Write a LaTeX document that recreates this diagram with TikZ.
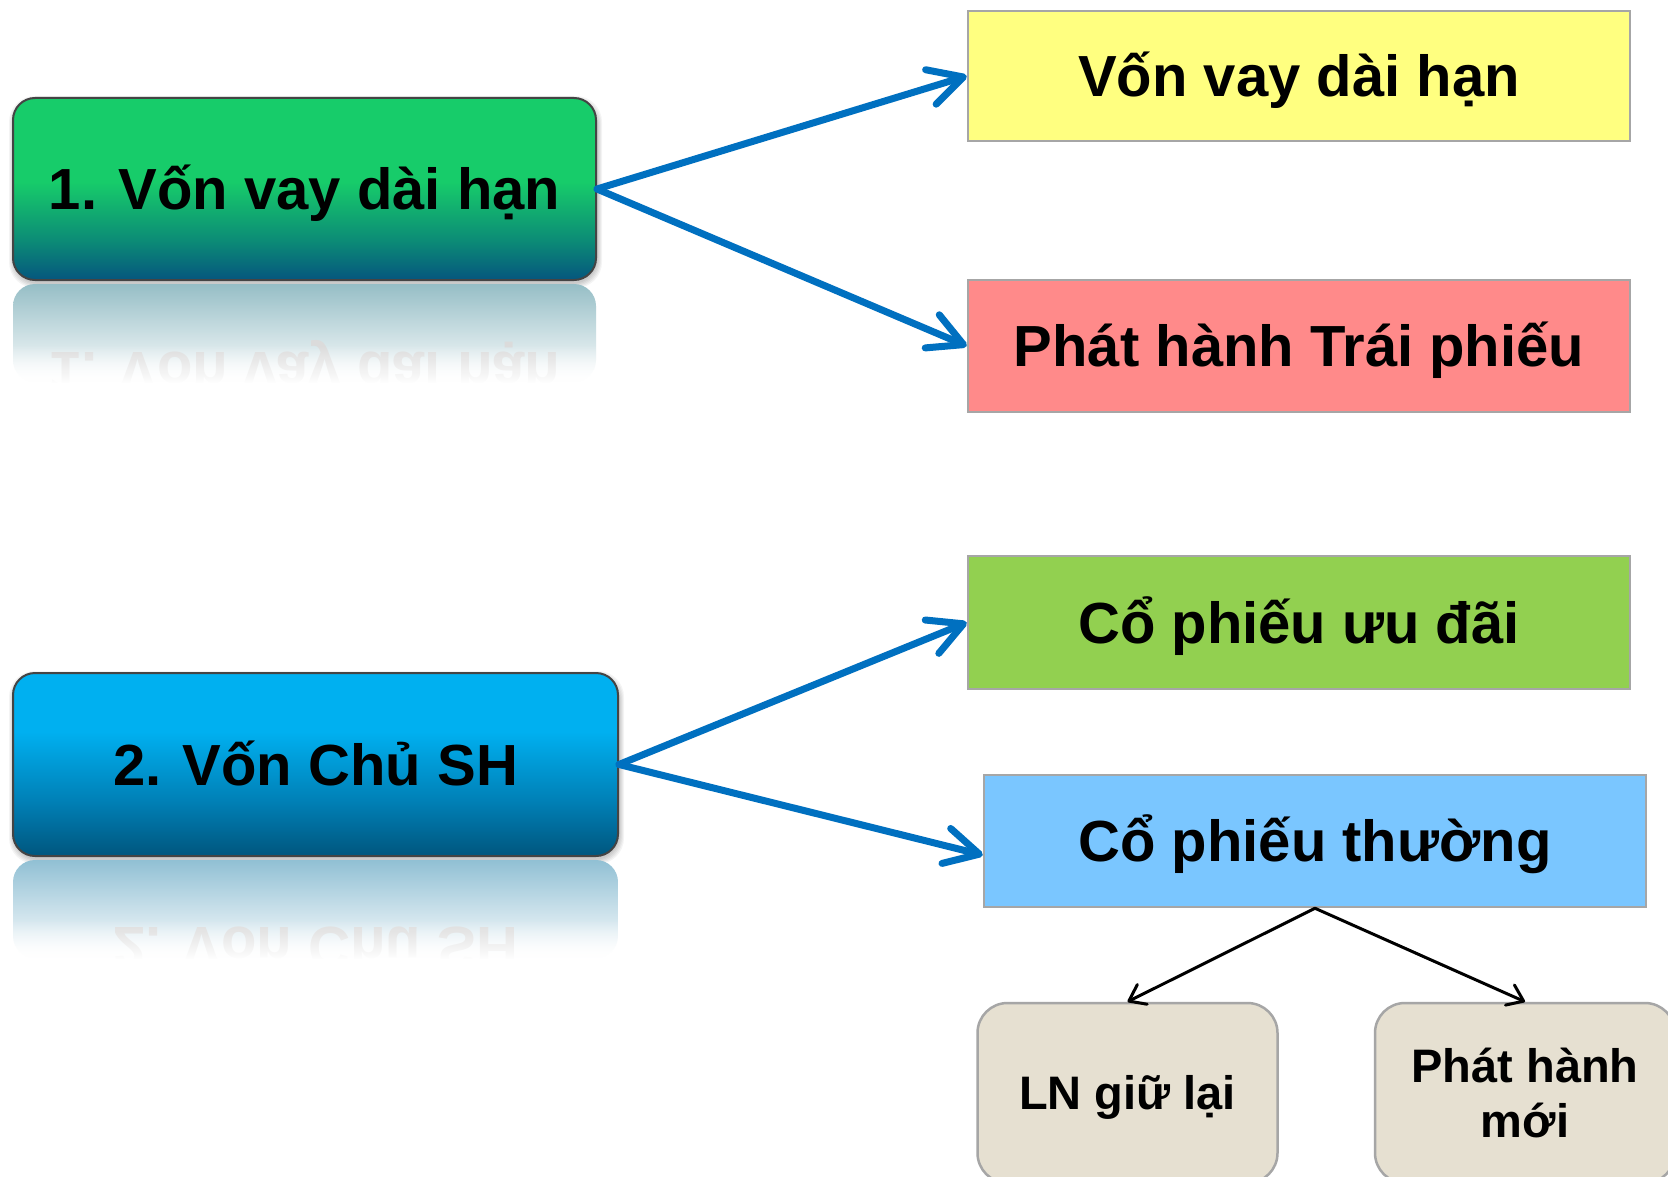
\documentclass[tikz,border=0pt]{standalone}
\usepackage{fontspec}
\setmainfont{Liberation Sans}
\usetikzlibrary{arrows.meta,fadings}

\definecolor{gTop}{RGB}{23,204,106}
\definecolor{gMid}{RGB}{12,140,118}
\definecolor{gBot}{RGB}{5,86,126}
\definecolor{bTop}{RGB}{0,176,240}
\definecolor{bMid}{RGB}{0,128,182}
\definecolor{bBot}{RGB}{0,86,126}
\definecolor{yelbox}{RGB}{255,255,128}
\definecolor{pinkbox}{RGB}{255,138,138}
\definecolor{lgreenbox}{RGB}{146,208,80}
\definecolor{lbluebox}{RGB}{122,198,255}
\definecolor{beigebox}{RGB}{230,224,209}
\definecolor{arrowblue}{RGB}{0,112,192}
\definecolor{edgegray}{RGB}{166,166,166}
\definecolor{darkedge}{RGB}{68,68,68}
\definecolor{reflG}{RGB}{150,190,198}
\definecolor{reflB}{RGB}{145,192,212}

\pgfdeclareverticalshading{greenshade}{100bp}{color(0bp)=(gBot); color(25bp)=(gBot); color(36bp)=(gMid); color(52bp)=(gTop); color(75bp)=(gTop); color(100bp)=(gTop)}
\pgfdeclareverticalshading{blueshade}{100bp}{color(0bp)=(bBot); color(25bp)=(bBot); color(40bp)=(bMid); color(59bp)=(bTop); color(75bp)=(bTop); color(100bp)=(bTop)}

\tikzset{
  bigfont/.style={font=\fontsize{58}{66}\selectfont\bfseries, text height=41.5pt, text depth=0pt},
  mainbox/.style={bigfont, draw=darkedge, line width=2pt, rounded corners=22pt, inner sep=0pt},
  rbox/.style={bigfont, draw=edgegray, line width=2.5pt, inner sep=0pt, minimum width=662pt, minimum height=131pt},
  lbox/.style={font=\fontsize{47}{55}\selectfont\bfseries, text height=33.7pt, text depth=0pt,
    draw=edgegray, line width=2.5pt, rounded corners=30pt, fill=beigebox, inner sep=0pt,
    minimum width=300pt, minimum height=180pt},
  ghost/.style={bigfont, text=black!14, inner sep=0pt},
  softshadow/.style={fill=black, opacity=0.045, rounded corners=26pt},
  bluearrow/.style={draw=arrowblue, line width=7pt, line cap=round,
    -{Straight Barb[length=34pt,width=36pt,round]}},
  blackarrow/.style={draw=black, line width=3pt, line cap=round,
    -{Straight Barb[length=15pt,width=22pt,round]}}
}

\begin{document}
\begin{tikzpicture}[x=1pt,y=-1pt]
\clip (0,0) rectangle (1668,1177);
\fill[white] (0,0) rectangle (1668,1177);

% soft shadows of the main boxes
\foreach \d in {1,2,3,4,5}{
  \path[softshadow] (13-\d+1,98-\d+3) rectangle (596+\d+1,280+\d+3);
  \path[softshadow] (13-\d+1,673-\d+3) rectangle (618+\d+1,856+\d+3);
}

% reflections
\shade[top color=reflG, bottom color=white, rounded corners=22pt] (13,284) rectangle (596,382);
\begin{scope}
  \clip (0,284) rectangle (640,382);
  \begin{scope}[shift={(304.5,373)}, yscale=-1]
    \node[ghost, transform shape] (g1) at (0,0) {1. Vốn vay dài hạn};
  \end{scope}
\end{scope}
\fill[white, path fading=north] (0,345) rectangle (640,384);

\shade[top color=reflB, bottom color=white, rounded corners=22pt] (13,860) rectangle (618,958);
\begin{scope}
  \clip (0,860) rectangle (660,958);
  \begin{scope}[shift={(315.5,948)}, yscale=-1]
    \node[ghost, transform shape] (g2) at (0,0) {2. Vốn Chủ SH};
  \end{scope}
\end{scope}
\fill[white, path fading=north] (0,920) rectangle (660,960);

% main boxes
\node[mainbox, shading=greenshade, minimum width=583pt, minimum height=182pt] (b1) at (304.5,189) {1. Vốn vay dài hạn};
\node[mainbox, shading=blueshade, minimum width=605pt, minimum height=183pt] (b2) at (315.5,764.5) {2. Vốn Chủ SH};

% right boxes
\node[rbox, fill=yelbox, minimum height=130pt] (r1) at (1299,76) {Vốn vay dài hạn};
\node[rbox, fill=pinkbox, minimum height=132pt] (r2) at (1299,346) {Phát hành Trái phiếu};
\node[rbox, fill=lgreenbox, minimum height=133pt] (r3) at (1299,622.5) {Cổ phiếu ưu đãi};
\node[rbox, fill=lbluebox, minimum height=132pt] (r4) at (1315,841) {Cổ phiếu thường};

% bottom boxes
\node[lbox] (l1) at (1127.5,1093) {LN giữ lại};
\node[lbox, text depth=55pt] (l2) at (1525,1093) {\begin{tabular}[t]{@{}c@{}}Phát hành\\mới\end{tabular}};

% connectors
\draw[bluearrow] (b1.east) -- (r1.west);
\draw[bluearrow] (b1.east) -- (r2.west);
\draw[bluearrow] (b2.east) -- (r3.west);
\draw[bluearrow] (b2.east) -- ([yshift=-14pt]r4.west);
\draw[blackarrow] (r4.south) -- (l1.north);
\draw[blackarrow] (r4.south) -- (l2.north);
\end{tikzpicture}
\end{document}
